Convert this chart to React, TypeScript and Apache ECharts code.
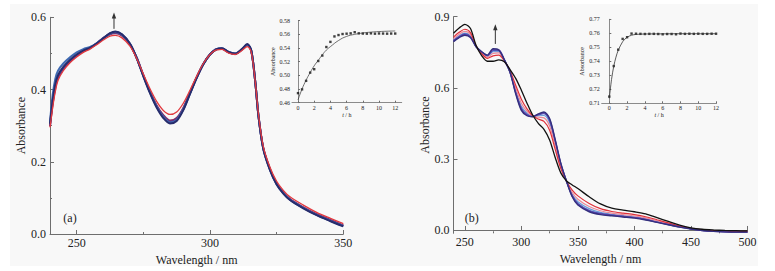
import React, { useEffect, useRef } from 'react';
import * as echarts from 'echarts';

// ---------- Panel (a): main spectra ----------
const wlA = [240, 241, 242, 243, 245, 247.5, 250, 252.5, 255, 257.5, 260, 262.5, 264.5, 267, 270, 272.5, 275, 277.5, 280, 282.5, 285, 287.5, 290, 292.5, 295, 297.5, 300, 302.5, 304.5, 307, 309.5, 312, 314, 315.5, 317, 318.2, 320, 322.5, 325, 327.5, 330, 335, 340, 345, 350];
const aMaroon = [0.298, 0.36, 0.405, 0.432, 0.457, 0.478, 0.494, 0.506, 0.515, 0.528, 0.542, 0.553, 0.556, 0.549, 0.525, 0.488, 0.44, 0.395, 0.356, 0.329, 0.314, 0.321, 0.349, 0.392, 0.434, 0.471, 0.497, 0.511, 0.513, 0.503, 0.499, 0.511, 0.523, 0.506, 0.42, 0.327, 0.238, 0.18, 0.14, 0.115, 0.097, 0.074, 0.055, 0.04, 0.024];
const aPurple = [0.3, 0.365, 0.41, 0.436, 0.46, 0.48, 0.495, 0.507, 0.515, 0.528, 0.543, 0.555, 0.558, 0.551, 0.526, 0.488, 0.439, 0.393, 0.354, 0.326, 0.311, 0.318, 0.347, 0.39, 0.433, 0.471, 0.497, 0.512, 0.513, 0.503, 0.499, 0.511, 0.524, 0.507, 0.42, 0.326, 0.237, 0.179, 0.139, 0.114, 0.096, 0.073, 0.054, 0.038, 0.023];
const aBlue = [0.31, 0.385, 0.43, 0.452, 0.472, 0.489, 0.503, 0.512, 0.518, 0.528, 0.542, 0.555, 0.559, 0.552, 0.527, 0.488, 0.438, 0.392, 0.352, 0.324, 0.309, 0.316, 0.345, 0.389, 0.433, 0.47, 0.497, 0.512, 0.514, 0.504, 0.5, 0.512, 0.525, 0.507, 0.42, 0.326, 0.236, 0.178, 0.138, 0.113, 0.095, 0.072, 0.053, 0.037, 0.022];
const aNavy = [0.305, 0.37, 0.415, 0.44, 0.463, 0.482, 0.497, 0.508, 0.515, 0.527, 0.542, 0.556, 0.561, 0.553, 0.527, 0.487, 0.437, 0.39, 0.35, 0.321, 0.306, 0.313, 0.343, 0.388, 0.432, 0.47, 0.497, 0.512, 0.514, 0.504, 0.499, 0.512, 0.526, 0.508, 0.42, 0.325, 0.235, 0.177, 0.137, 0.112, 0.094, 0.071, 0.052, 0.036, 0.021];
const aRed = [0.295, 0.35, 0.395, 0.425, 0.452, 0.474, 0.49, 0.503, 0.512, 0.524, 0.537, 0.548, 0.55, 0.543, 0.52, 0.486, 0.443, 0.402, 0.367, 0.342, 0.331, 0.338, 0.362, 0.398, 0.437, 0.472, 0.497, 0.51, 0.511, 0.501, 0.497, 0.508, 0.519, 0.503, 0.42, 0.33, 0.242, 0.185, 0.146, 0.121, 0.103, 0.08, 0.06, 0.044, 0.029];

// ---------- Panel (a): inset kinetics ----------
const tA = [0, 0.5, 1, 1.5, 2, 2.5, 3, 3.5, 4, 4.5, 5, 5.5, 6, 6.5, 7, 7.5, 8, 8.5, 9, 9.5, 10, 10.5, 11, 11.5, 12];
const ptsA = [0.474, 0.4795, 0.492, 0.504, 0.509, 0.521, 0.529, 0.5415, 0.549, 0.557, 0.559, 0.5605, 0.561, 0.5615, 0.5632, 0.5615, 0.5612, 0.561, 0.5615, 0.561, 0.5613, 0.5612, 0.561, 0.5612, 0.5612];
const fitTA = [0, 0.5, 1, 1.5, 2, 2.5, 3, 3.5, 4, 5, 6, 7, 8, 9, 10, 11, 12];
const fitA = [0.464, 0.48, 0.493, 0.504, 0.514, 0.522, 0.53, 0.537, 0.542, 0.551, 0.557, 0.56, 0.562, 0.5633, 0.5641, 0.5646, 0.565];

// ---------- Panel (b): main spectra ----------
const wlB = [240, 245, 250, 255, 260, 265, 270, 275, 280, 285, 290, 295, 300, 305, 310, 315, 320, 325, 330, 335, 340, 345, 350, 360, 370, 380, 390, 400, 410, 420, 430, 440, 450, 460, 470, 480, 490, 500];
const bBlack = [0.83, 0.852, 0.868, 0.85, 0.778, 0.735, 0.712, 0.712, 0.718, 0.71, 0.677, 0.64, 0.59, 0.535, 0.485, 0.45, 0.425, 0.38, 0.305, 0.24, 0.207, 0.19, 0.175, 0.14, 0.11, 0.092, 0.084, 0.077, 0.068, 0.052, 0.036, 0.02, 0.009, 0.003, 0.0, -0.002, -0.003, -0.004];
const bRed = [0.814, 0.834, 0.847, 0.833, 0.776, 0.743, 0.724, 0.735, 0.738, 0.714, 0.672, 0.611, 0.552, 0.511, 0.482, 0.468, 0.458, 0.421, 0.339, 0.258, 0.206, 0.168, 0.144, 0.112, 0.09, 0.078, 0.071, 0.065, 0.056, 0.043, 0.03, 0.016, 0.007, 0.001, -0.003, -0.005, -0.006, -0.006];
const bPink = [0.807, 0.826, 0.838, 0.825, 0.775, 0.746, 0.729, 0.745, 0.747, 0.715, 0.669, 0.598, 0.535, 0.501, 0.48, 0.476, 0.473, 0.439, 0.354, 0.266, 0.206, 0.158, 0.13, 0.099, 0.081, 0.071, 0.065, 0.059, 0.051, 0.039, 0.027, 0.015, 0.006, 0.0, -0.004, -0.006, -0.007, -0.007];
const bLightBlue = [0.802, 0.82, 0.831, 0.82, 0.774, 0.749, 0.733, 0.752, 0.753, 0.716, 0.667, 0.588, 0.522, 0.493, 0.479, 0.482, 0.483, 0.452, 0.365, 0.272, 0.205, 0.15, 0.119, 0.09, 0.074, 0.066, 0.061, 0.055, 0.047, 0.036, 0.025, 0.014, 0.005, -0.001, -0.005, -0.007, -0.008, -0.008];
const bBlue = [0.799, 0.816, 0.827, 0.816, 0.774, 0.75, 0.735, 0.757, 0.758, 0.717, 0.666, 0.582, 0.514, 0.487, 0.479, 0.486, 0.491, 0.461, 0.373, 0.276, 0.205, 0.145, 0.112, 0.083, 0.07, 0.063, 0.058, 0.053, 0.045, 0.034, 0.023, 0.013, 0.005, -0.002, -0.005, -0.007, -0.008, -0.008];
const bPurple = [0.797, 0.814, 0.825, 0.814, 0.773, 0.751, 0.737, 0.761, 0.76, 0.718, 0.666, 0.579, 0.51, 0.485, 0.479, 0.488, 0.495, 0.466, 0.377, 0.278, 0.205, 0.143, 0.109, 0.08, 0.068, 0.062, 0.057, 0.052, 0.044, 0.033, 0.023, 0.013, 0.005, -0.002, -0.006, -0.008, -0.009, -0.009];
const bNavy = [0.795, 0.812, 0.822, 0.812, 0.773, 0.752, 0.738, 0.765, 0.76, 0.718, 0.665, 0.575, 0.505, 0.482, 0.478, 0.49, 0.498, 0.47, 0.38, 0.28, 0.205, 0.14, 0.105, 0.077, 0.065, 0.06, 0.055, 0.05, 0.042, 0.032, 0.022, 0.012, 0.004, -0.002, -0.006, -0.008, -0.009, -0.009];

// ---------- Panel (b): inset kinetics ----------
const tB = [0, 0.5, 1, 1.5, 2, 2.5, 3, 3.5, 4, 4.5, 5, 5.5, 6, 6.5, 7, 7.5, 8, 8.5, 9, 9.5, 10, 10.5, 11, 11.5, 12];
const ptsB = [0.7148, 0.7366, 0.7483, 0.756, 0.7572, 0.7598, 0.7597, 0.7596, 0.7595, 0.7596, 0.7596, 0.7595, 0.7593, 0.7595, 0.7595, 0.7593, 0.7598, 0.7596, 0.7597, 0.7596, 0.7597, 0.7596, 0.7596, 0.7597, 0.7597];
const fitTB = [0, 0.25, 0.5, 0.75, 1, 1.5, 2, 2.5, 3, 4, 6, 8, 10, 12];
const fitB = [0.7136, 0.727, 0.7365, 0.743, 0.7478, 0.754, 0.7572, 0.7586, 0.7592, 0.7595, 0.7596, 0.7597, 0.7597, 0.7597];

// ---------- Tick labels ----------
const xTicksA = [250, 300, 350];
const xMinorA = [275, 325];
const xTicksB = [250, 300, 350, 400, 450, 500];
const xMinorB = [275, 325, 375, 425, 475];
const yTicksB = [0, 0.3, 0.6, 0.9];
const tTicks = [0, 2, 4, 6, 8, 10, 12];

const zip = (xs: number[], ys: number[]) => xs.map((x, i) => [x, ys[i]]);

const FONT = "'Liberation Serif', 'Times New Roman', serif";
const AXIS = '#6e6e6e';
const TXT = '#222';

function mainX(gridIndex: number, min: number, max: number, ticks: number[]) {
  return {
    type: 'value', gridIndex, min, max, position: 'bottom',
    axisLine: { show: true, lineStyle: { color: AXIS, width: 1 } },
    axisTick: { show: true, inside: true, length: 4, customValues: ticks, lineStyle: { color: AXIS } },
    axisLabel: { show: true, customValues: ticks, margin: 3, color: TXT, fontSize: 12, fontFamily: FONT },
    splitLine: { show: false },
    name: 'Wavelength / nm', nameLocation: 'middle', nameGap: 16,
    nameTextStyle: { color: TXT, fontSize: 12, fontFamily: FONT },
  };
}
function minorX(gridIndex: number, min: number, max: number, ticks: number[]) {
  return {
    type: 'value', gridIndex, min, max, position: 'bottom',
    axisLine: { show: false },
    axisTick: { show: true, inside: true, length: 2, customValues: ticks, lineStyle: { color: AXIS } },
    axisLabel: { show: false },
    splitLine: { show: false },
  };
}
function insetX(gridIndex: number, min: number, max: number) {
  return {
    type: 'value', gridIndex, min, max, position: 'bottom',
    axisLine: { show: true, lineStyle: { color: AXIS, width: 0.8 } },
    axisTick: { show: true, inside: true, length: 2, customValues: tTicks, lineStyle: { color: AXIS } },
    axisLabel: { show: true, customValues: tTicks, margin: 2, color: TXT, fontSize: 6, fontFamily: FONT },
    splitLine: { show: false },
    name: '{i|t} / h', nameLocation: 'middle', nameGap: 7,
    nameTextStyle: { color: TXT, fontSize: 6, fontFamily: FONT, rich: { i: { fontStyle: 'italic', fontSize: 6, fontFamily: FONT, color: TXT } } },
  };
}
function insetY(gridIndex: number, min: number, max: number, interval: number) {
  return {
    type: 'value', gridIndex, min, max, interval,
    axisLine: { show: true, lineStyle: { color: AXIS, width: 0.8 } },
    axisTick: { show: true, inside: true, length: 2, lineStyle: { color: AXIS } },
    axisLabel: { show: true, margin: 2, color: TXT, fontSize: 6, fontFamily: FONT, formatter: (v: number) => v.toFixed(2) },
    splitLine: { show: false },
    name: 'Absorbance', nameLocation: 'middle', nameGap: 16, nameRotate: 90,
    nameTextStyle: { color: TXT, fontSize: 6, fontFamily: FONT },
  };
}

function specLine(xAxisIndex: number, yAxisIndex: number, xs: number[], ys: number[], color: string, width: number) {
  return {
    type: 'line', xAxisIndex, yAxisIndex, data: zip(xs, ys), showSymbol: false, symbol: 'none',
    smooth: 0.3, lineStyle: { color, width }, itemStyle: { color }, silent: true,
  };
}

export default function App() {
  const ref = useRef<HTMLDivElement>(null);
  useEffect(() => {
    document.body.style.margin = '0';
    const chart = echarts.init(ref.current!, null, { renderer: 'svg' });
    const option: any = {
      animation: false,
      backgroundColor: '#ffffff',
      textStyle: { fontFamily: FONT },
      grid: [
        { left: 50, top: 17.3, width: 293.3, height: 216.7, containLabel: false, outerBoundsMode: 'none' },
        { left: 292, top: 20.7, width: 109.7, height: 82, containLabel: false, outerBoundsMode: 'none' },
        { left: 453.5, top: 16.7, width: 294, height: 216.6, containLabel: false, outerBoundsMode: 'none' },
        { left: 601.7, top: 19.3, width: 114.8, height: 84, containLabel: false, outerBoundsMode: 'none' },
      ],
      xAxis: [
        mainX(0, 240, 350, xTicksA),
        minorX(0, 240, 350, xMinorA),
        insetX(1, -0.74, 12.8),
        mainX(2, 240, 500, xTicksB),
        minorX(2, 240, 500, xMinorB),
        insetX(3, -0.855, 12.05),
      ],
      yAxis: [
        {
          type: 'value', gridIndex: 0, min: 0, max: 0.6, interval: 0.2,
          axisLine: { show: true, lineStyle: { color: AXIS, width: 1 } },
          axisTick: { show: true, inside: true, length: 4, lineStyle: { color: AXIS } },
          minorTick: { show: true, splitNumber: 2, length: 2, lineStyle: { color: AXIS } },
          axisLabel: { margin: 4, color: TXT, fontSize: 12, fontFamily: FONT, formatter: (v: number) => v.toFixed(1) },
          splitLine: { show: false },
          name: 'Absorbance', nameLocation: 'middle', nameGap: 22, nameRotate: 90,
          nameTextStyle: { color: TXT, fontSize: 12, fontFamily: FONT },
        },
        insetY(1, 0.46, 0.58, 0.02),
        {
          type: 'value', gridIndex: 2, min: -0.014, max: 0.9,
          axisLine: { show: true, lineStyle: { color: AXIS, width: 1 } },
          axisTick: { show: true, inside: true, length: 4, customValues: yTicksB, lineStyle: { color: AXIS } },
          axisLabel: { margin: 4, customValues: yTicksB, color: TXT, fontSize: 12, fontFamily: FONT, formatter: (v: number) => v.toFixed(1) },
          splitLine: { show: false },
          name: 'Absorbance', nameLocation: 'middle', nameGap: 20, nameRotate: 90,
          nameTextStyle: { color: TXT, fontSize: 12, fontFamily: FONT },
        },
        insetY(3, 0.71, 0.77, 0.01),
      ],
      series: [
        specLine(0, 0, wlA, aMaroon, '#8a2c5e', 2),
        specLine(0, 0, wlA, aPurple, '#5a3a8e', 2),
        specLine(0, 0, wlA, aBlue, '#3f6ab2', 2),
        specLine(0, 0, wlA, aNavy, '#272c6c', 2),
        specLine(0, 0, wlA, aRed, '#e23a3f', 1.3),
        {
          type: 'line', xAxisIndex: 2, yAxisIndex: 1, data: zip(fitTA, fitA), showSymbol: false, symbol: 'none',
          smooth: true, lineStyle: { color: '#333', width: 0.7 }, silent: true,
        },
        {
          type: 'scatter', xAxisIndex: 2, yAxisIndex: 1, data: zip(tA, ptsA), symbol: 'rect', symbolSize: 2.4,
          itemStyle: { color: '#111' }, silent: true,
        },
        specLine(3, 2, wlB, bLightBlue, '#6f9ad6', 1.2),
        specLine(3, 2, wlB, bBlue, '#3a5cc0', 1.3),
        specLine(3, 2, wlB, bPink, '#e98a9a', 1.2),
        specLine(3, 2, wlB, bRed, '#e0303a', 1.2),
        specLine(3, 2, wlB, bPurple, '#6a40a8', 1.4),
        specLine(3, 2, wlB, bNavy, '#33307e', 1.4),
        specLine(3, 2, wlB, bBlack, '#111111', 1.3),
        {
          type: 'line', xAxisIndex: 5, yAxisIndex: 3, data: zip(fitTB, fitB), showSymbol: false, symbol: 'none',
          smooth: 0.3, lineStyle: { color: '#333', width: 0.8 }, silent: true,
        },
        {
          type: 'scatter', xAxisIndex: 5, yAxisIndex: 3, data: zip(tB, ptsB), symbol: 'rect', symbolSize: 2.4,
          itemStyle: { color: '#111' }, silent: true,
        },
      ],
    };
    chart.setOption(option);

    const px = (seriesIndex: number, x: number, y: number) =>
      chart.convertToPixel({ seriesIndex }, [x, y]) as number[];

    const arrow = (seriesIndex: number, x: number, y0: number, y1: number) => {
      const b = px(seriesIndex, x, y0);
      const t = px(seriesIndex, x, y1);
      return [
        { type: 'line', z: 100, shape: { x1: b[0], y1: b[1], x2: t[0], y2: t[1] + 5 }, style: { stroke: '#333', lineWidth: 1 } },
        { type: 'polygon', z: 100, shape: { points: [[t[0], t[1]], [t[0] - 2.2, t[1] + 6], [t[0] + 2.2, t[1] + 6]] }, style: { fill: '#333' } },
      ];
    };
    const la = px(0, 245, 0.044);
    const lb = px(7, 250, 0.049);
    chart.setOption({
      graphic: [
        { type: 'rect', z: -10, silent: true, shape: { x: 10, y: 4, width: 748, height: 262 }, style: { fill: '#f8f8f8' } },
        ...arrow(0, 264, 0.568, 0.613),
        ...arrow(7, 277, 0.785, 0.868),
        { type: 'text', z: 100, x: la[0], y: la[1], style: { text: '(a)', fill: TXT, fontSize: 12, fontFamily: FONT, verticalAlign: 'middle', align: 'left' } },
        { type: 'text', z: 100, x: lb[0], y: lb[1], style: { text: '(b)', fill: TXT, fontSize: 12, fontFamily: FONT, verticalAlign: 'middle', align: 'left' } },
      ],
    });
    return () => chart.dispose();
  }, []);
  return <div ref={ref} style={{ width: 775, height: 271 }} />;
}
